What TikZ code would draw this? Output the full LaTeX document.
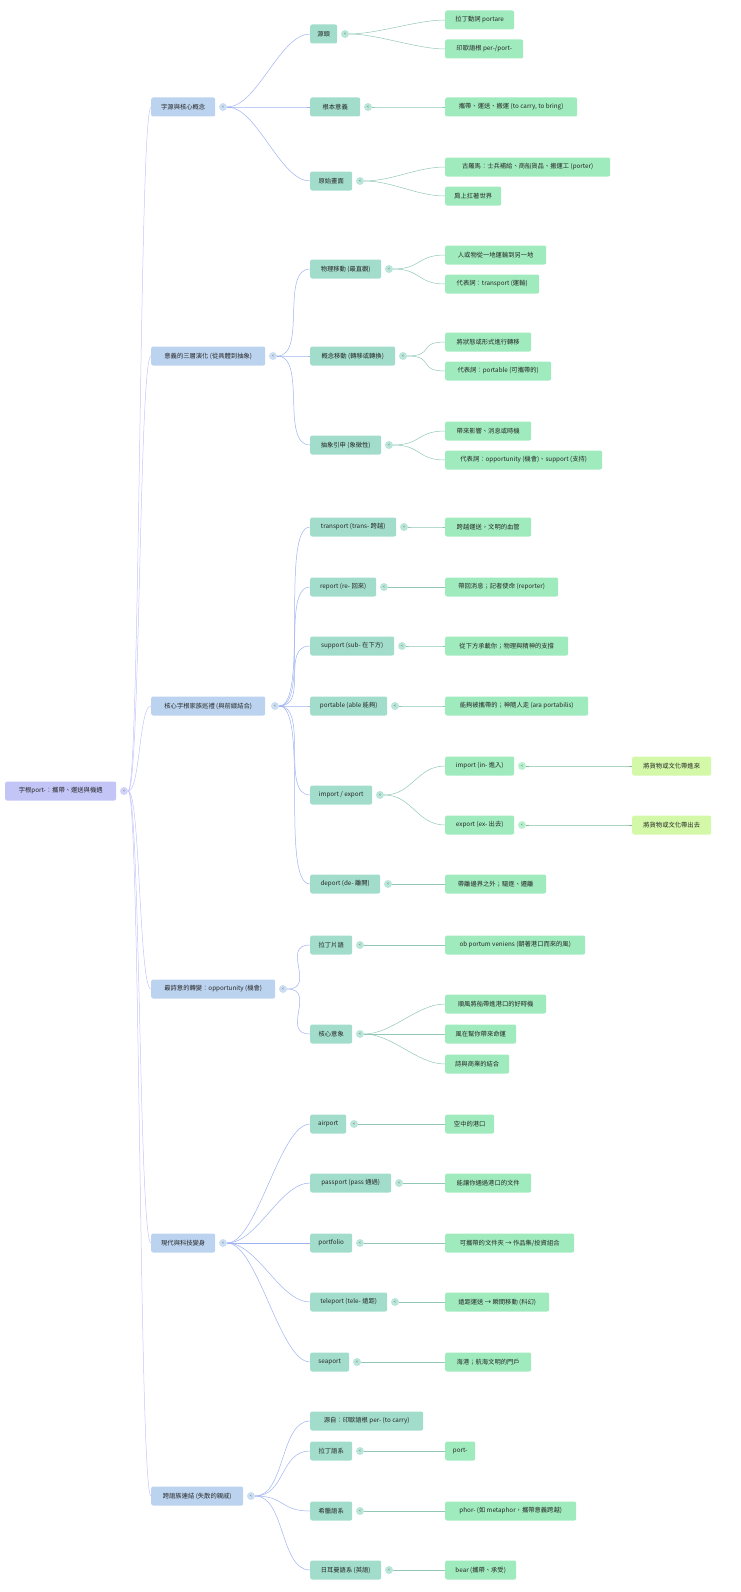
\documentclass[tikz,border=0pt]{standalone}
\usepackage{fontspec}
\setmainfont{Noto Sans CJK TC}
\usetikzlibrary{backgrounds}
\begin{document}
\begin{tikzpicture}[x=1pt,y=-1pt,
  base/.style={rounded corners=2pt,minimum height=19pt,inner xsep=5pt,font=\fontsize{6.3}{7}\selectfont,text=black!85},
  r0/.style={base,fill=rootc},
  l1/.style={base,fill=l1c},
  l2/.style={base,fill=l2c},
  l3/.style={base,fill=l3c},
  l4/.style={base,fill=l4c},
  tg/.style={circle,inner sep=0pt,minimum size=8pt,fill=#1,font=\fontsize{4}{4}\selectfont,text=black!60},
  e0/.style={draw=rootc!80!blue!60,line width=0.5pt},
  e1/.style={draw=l1c!85!blue,line width=0.5pt},
  e2/.style={draw=l2c!90!black,line width=0.5pt},
  e3/.style={draw=l3c!80!black,line width=0.5pt}]
\definecolor{rootc}{HTML}{C3C5F6}
\definecolor{l1c}{HTML}{BBD3EE}
\definecolor{l2c}{HTML}{A2DDCB}
\definecolor{l3c}{HTML}{A0EBBE}
\definecolor{l4c}{HTML}{D3F9A8}
\useasboundingbox (0,0) rectangle (740,1592);
\newcommand\nd[6]{\node[#2,anchor=west,minimum width={#4pt-#3pt}] (#1) at (#3,#5) {#6};}
\newcommand\cc[4]{\node[tg=#4!75] (#1) at (#2,#3) {<};}
\newcommand\ed[3]{\draw[#1] (#2.east) .. controls +(\hh,0) and +(-\hh,0) .. (#3.west);}
% root
\nd{R}{r0}{5}{116}{791}{字根port-：攜帶、運送與機遇}
\cc{Rc}{124}{791}{rootc}
% A
\nd{A}{l1}{151}{215}{107}{字源與核心概念} \cc{Ac}{223}{107}{l1c}
\nd{A1}{l2}{310}{337}{34}{源頭} \cc{A1c}{345}{34}{l2c}
\nd{A11}{l3}{445}{514}{20}{拉丁動詞 portare}
\nd{A12}{l3}{445}{523}{49}{印歐語根 per-/port-}
\nd{A2}{l2}{310}{360}{107}{根本意義} \cc{A2c}{368}{107}{l2c}
\nd{A21}{l3}{445}{577}{107}{攜帶、運送、搬運 (to carry, to bring)}
\nd{A3}{l2}{310}{352}{181}{原始畫面} \cc{A3c}{360}{181}{l2c}
\nd{A31}{l3}{445}{610}{167}{古羅馬：士兵補給、商船貨品、搬運工 (porter)}
\nd{A32}{l3}{445}{501}{196}{肩上扛著世界}
% B
\nd{B}{l1}{151}{265}{356}{意義的三層演化 (從具體到抽象)} \cc{Bc}{273}{356}{l1c}
\nd{B1}{l2}{310}{381}{269}{物理移動 (最直觀)} \cc{B1c}{389}{269}{l2c}
\nd{B11}{l3}{445}{546}{255}{人或物從一地運輸到另一地}
\nd{B12}{l3}{445}{539}{284}{代表詞：transport (運輸)}
\nd{B2}{l2}{310}{395}{356}{概念移動 (轉移或轉換)} \cc{B2c}{403}{356}{l2c}
\nd{B21}{l3}{445}{531}{342}{將狀態或形式進行轉移}
\nd{B22}{l3}{445}{551}{371}{代表詞：portable (可攜帶的)}
\nd{B3}{l2}{310}{381}{445}{抽象引申 (象徵性)} \cc{B3c}{389}{445}{l2c}
\nd{B31}{l3}{445}{531}{431}{帶來影響、消息或時機}
\nd{B32}{l3}{445}{602}{460}{代表詞：opportunity (機會)、support (支持)}
% C
\nd{C}{l1}{151}{265}{706}{核心字根家族巡禮 (與前綴結合)} \cc{Cc}{275}{706}{l1c}
\nd{C1}{l2}{310}{396}{527}{transport (trans- 跨越)} \cc{C1c}{404}{527}{l2c}
\nd{C11}{l3}{445}{531}{527}{跨越運送，文明的血管}
\nd{C2}{l2}{310}{376}{587}{report (re- 回來)} \cc{C2c}{384}{587}{l2c}
\nd{C21}{l3}{445}{558}{587}{帶回消息；記者使命 (reporter)}
\nd{C3}{l2}{310}{394}{646}{support (sub- 在下方)} \cc{C3c}{402}{646}{l2c}
\nd{C31}{l3}{445}{568}{646}{從下方承載你；物理與精神的支撐}
\nd{C4}{l2}{310}{387}{706}{portable (able 能夠)} \cc{C4c}{395}{706}{l2c}
\nd{C41}{l3}{445}{588}{706}{能夠被攜帶的；神隨人走 (ara portabilis)}
\nd{C5}{l2}{310}{372}{795}{import / export} \cc{C5c}{380}{795}{l2c}
\nd{C51}{l3}{445}{514}{766}{import (in- 進入)} \cc{C51c}{522}{766}{l3c}
\nd{C511}{l4}{632}{711}{766}{將貨物或文化帶進來}
\nd{C52}{l3}{445}{514}{825}{export (ex- 出去)} \cc{C52c}{522}{825}{l3c}
\nd{C521}{l4}{632}{711}{825}{將貨物或文化帶出去}
\nd{C6}{l2}{310}{380}{884}{deport (de- 離開)} \cc{C6c}{388}{884}{l2c}
\nd{C61}{l3}{445}{546}{884}{帶離邊界之外；驅逐、遷離}
% D
\nd{D}{l1}{151}{275}{989}{最詩意的轉變：opportunity (機會)} \cc{Dc}{283}{989}{l1c}
\nd{D1}{l2}{310}{352}{945}{拉丁片語} \cc{D1c}{360}{945}{l2c}
\nd{D11}{l3}{445}{585}{945}{ob portum veniens (朝著港口而來的風)}
\nd{D2}{l2}{310}{352}{1034}{核心意象} \cc{D2c}{360}{1034}{l2c}
\nd{D21}{l3}{445}{546}{1004}{順風將船帶進港口的好時機}
\nd{D22}{l3}{445}{516}{1034}{風在幫你帶來命運}
\nd{D23}{l3}{445}{509}{1064}{詩與商業的結合}
% E
\nd{E}{l1}{151}{215}{1243}{現代與科技變身} \cc{Ec}{223}{1243}{l1c}
\nd{E1}{l2}{310}{346}{1124}{airport} \cc{E1c}{354}{1124}{l2c}
\nd{E11}{l3}{445}{494}{1124}{空中的港口}
\nd{E2}{l2}{310}{391}{1183}{passport (pass 通過)} \cc{E2c}{399}{1183}{l2c}
\nd{E21}{l3}{445}{531}{1183}{能讓你通過港口的文件}
\nd{E3}{l2}{310}{352}{1243}{portfolio} \cc{E3c}{360}{1243}{l2c}
\nd{E31}{l3}{445}{574}{1243}{可攜帶的文件夾 → 作品集/投資組合}
\nd{E4}{l2}{310}{387}{1302}{teleport (tele- 遠距)} \cc{E4c}{395}{1302}{l2c}
\nd{E41}{l3}{445}{549}{1302}{遠距運送 → 瞬間移動 (科幻)}
\nd{E5}{l2}{310}{349}{1362}{seaport} \cc{E5c}{357}{1362}{l2c}
\nd{E51}{l3}{445}{531}{1362}{海港；航海文明的門戶}
% F
\nd{F}{l1}{151}{243}{1496}{跨語族連結 (失散的親戚)} \cc{Fc}{251}{1496}{l1c}
\nd{F1}{l2}{310}{423}{1421}{源自：印歐語根 per- (to carry)}
\nd{F2}{l2}{310}{352}{1451}{拉丁語系} \cc{F2c}{360}{1451}{l2c}
\nd{F21}{l3}{445}{475}{1451}{port-}
\nd{F3}{l2}{310}{352}{1511}{希臘語系} \cc{F3c}{360}{1511}{l2c}
\nd{F31}{l3}{445}{576}{1511}{phor- (如 metaphor，攜帶意義跨越)}
\nd{F4}{l2}{310}{381}{1570}{日耳曼語系 (英語)} \cc{F4c}{389}{1570}{l2c}
\nd{F41}{l3}{445}{516}{1570}{bear (攜帶、承受)}
% edges
\begin{pgfonlayer}{background}
\def\hh{12}
\foreach \c in {A,B,C,D,E,F} {\ed{e0}{Rc}{\c}}
\def\hh{30}
\foreach \c in {A1,A2,A3} {\ed{e1}{Ac}{\c}}
\foreach \c in {B1,B2,B3} {\ed{e1}{Bc}{\c}}
\foreach \c in {C1,C2,C3,C4,C5,C6} {\ed{e1}{Cc}{\c}}
\foreach \c in {D1,D2} {\ed{e1}{Dc}{\c}}
\foreach \c in {E1,E2,E3,E4,E5} {\ed{e1}{Ec}{\c}}
\foreach \c in {F1,F2,F3,F4} {\ed{e1}{Fc}{\c}}
\def\hh{28}
\ed{e2}{A1c}{A11}\ed{e2}{A1c}{A12}\ed{e2}{A2c}{A21}\ed{e2}{A3c}{A31}\ed{e2}{A3c}{A32}
\ed{e2}{B1c}{B11}\ed{e2}{B1c}{B12}\ed{e2}{B2c}{B21}\ed{e2}{B2c}{B22}\ed{e2}{B3c}{B31}\ed{e2}{B3c}{B32}
\ed{e2}{C1c}{C11}\ed{e2}{C2c}{C21}\ed{e2}{C3c}{C31}\ed{e2}{C4c}{C41}\ed{e2}{C5c}{C51}\ed{e2}{C5c}{C52}\ed{e2}{C6c}{C61}
\ed{e3}{C51c}{C511}\ed{e3}{C52c}{C521}
\ed{e2}{D1c}{D11}\ed{e2}{D2c}{D21}\ed{e2}{D2c}{D22}\ed{e2}{D2c}{D23}
\ed{e2}{E1c}{E11}\ed{e2}{E2c}{E21}\ed{e2}{E3c}{E31}\ed{e2}{E4c}{E41}\ed{e2}{E5c}{E51}
\ed{e2}{F2c}{F21}\ed{e2}{F3c}{F31}\ed{e2}{F4c}{F41}
\end{pgfonlayer}
\end{tikzpicture}
\end{document}
